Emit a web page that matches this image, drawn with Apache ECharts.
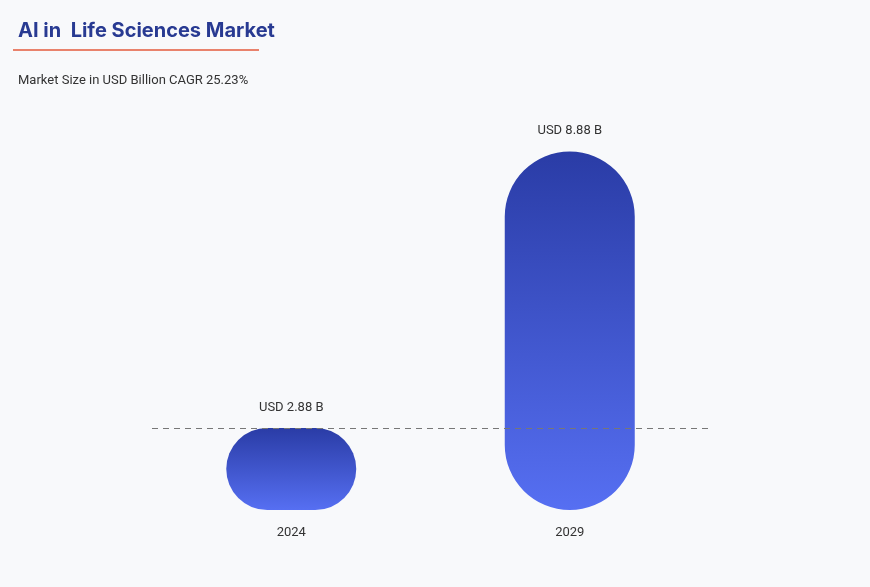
<!DOCTYPE html><html><head><meta charset="utf-8">
<script src="https://cdn.jsdelivr.net/npm/echarts@6/dist/echarts.min.js"></script>
<style>html,body{margin:0;padding:0;background:#f8f9fb}#c{width:870px;height:587px}</style></head><body><div id="c"></div>
<script>
const categories = ['2024', '2029'];
const values = [2.88, 8.88];
const valueLabels = ['USD 2.88 B', 'USD 8.88 B'];
const refValue = 2.88;

const chart = echarts.init(document.getElementById('c'));
chart.setOption({
  backgroundColor: '#f8f9fb',
  title: [{
    text: 'AI in  Life Sciences Market', left: 13, top: 16,
    textStyle: { fontFamily: 'Inter', fontSize: 20, fontWeight: 'bold', color: '#283a92' }
  }, {
    text: 'Market Size in USD Billion CAGR 25.23%', left: 13, top: 69,
    textStyle: { fontFamily: 'Roboto', fontSize: 13, fontWeight: 'normal', color: '#333' }
  }],
  graphic: [{ type: 'rect', left: 13, top: 49, shape: { width: 246, height: 2 }, style: { fill: '#e9826c' } }],
  grid: { left: 152, right: 161, top: 123, bottom: 77 },
  xAxis: {
    type: 'category', data: categories,
    axisLine: { show: false }, axisTick: { show: false },
    axisLabel: { fontFamily: 'Roboto', fontSize: 13, color: '#333', margin: 16 }
  },
  yAxis: { type: 'value', min: 1.1, max: 9.5, show: false, splitLine: { show: false } },
  series: [{
    type: 'bar', data: values, barWidth: 130,
    itemStyle: {
      borderRadius: 65,
      color: new echarts.graphic.LinearGradient(0, 0, 0, 1, [
        { offset: 0, color: '#2a3ca6' }, { offset: 1, color: '#566ff2' }])
    },
    label: {
      show: true, position: 'top', distance: 14,
      formatter: p => valueLabels[p.dataIndex],
      fontFamily: 'Roboto', fontSize: 13, color: '#333'
    },
    markLine: {
      silent: true, symbol: 'none', label: { show: false },
      lineStyle: { type: [6, 5], color: '#777', width: 1 },
      data: [{ yAxis: refValue }]
    }
  }]
});
</script></body></html>
